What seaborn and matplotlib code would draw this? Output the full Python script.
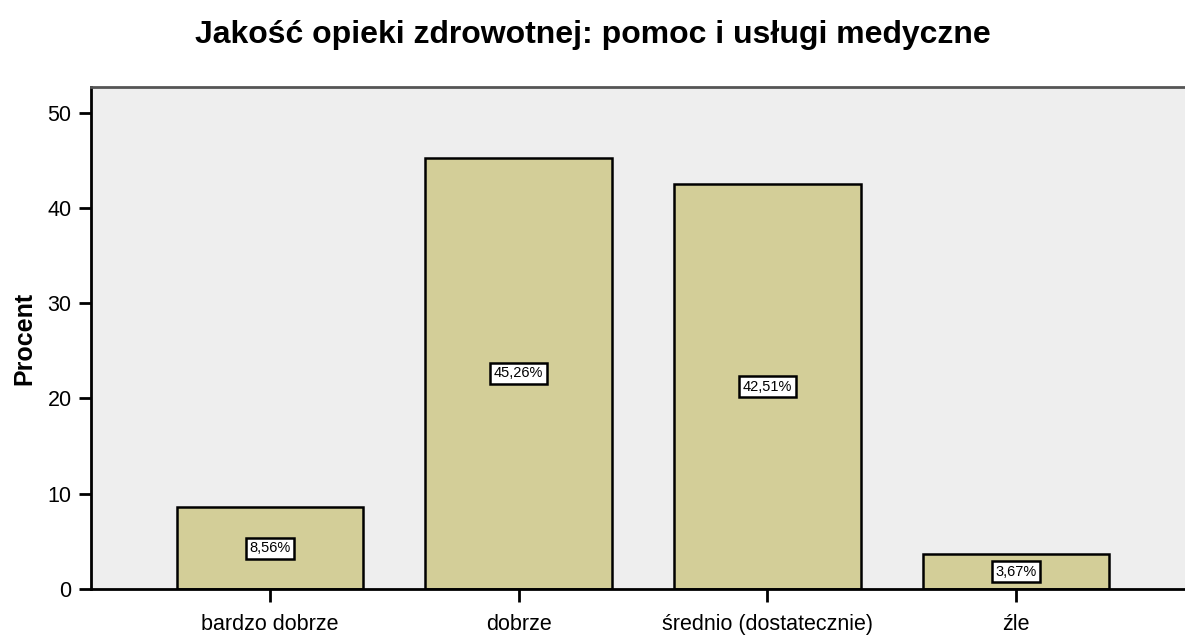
import matplotlib
matplotlib.use('Agg')
import matplotlib.pyplot as plt
import seaborn as sns
import pandas as pd

categories = ['bardzo dobrze', 'dobrze', 'średnio (dostatecznie)', 'źle']
percent = [8.56, 45.26, 42.51, 3.67]
labels = ['8,56%', '45,26%', '42,51%', '3,67%']

df = pd.DataFrame({'kat': categories, 'proc': percent})

sns.set_style('white')
plt.rcParams['font.family'] = ['Liberation Sans', 'DejaVu Sans']
plt.rcParams['text.color'] = 'black'
plt.rcParams['axes.labelcolor'] = 'black'

fig = plt.figure(figsize=(11.85, 6.36), dpi=100)
ax = fig.add_axes([0.0768, 0.0739, 0.9232, 0.7893])
ax.set_facecolor('#EEEEEE')

sns.barplot(data=df, x='kat', y='proc', color='#D3CE98', width=0.75,
            edgecolor='black', linewidth=1.8, saturation=1, ax=ax)

for i, (v, t) in enumerate(zip(percent, labels)):
    ax.text(i, v / 2, t, ha='center', va='center', fontsize=10.5, color='black',
            bbox=dict(boxstyle='square,pad=0.25', fc='white', ec='black', lw=1.8))

ax.set_xlim(-0.72, 3.68)
ax.set_ylim(0, 52.7)
ax.set_yticks([0, 10, 20, 30, 40, 50])
ax.tick_params(axis='both', bottom=True, left=True, direction='out', length=9, width=2,
               colors='black', labelsize=15.5, pad=5)
ax.tick_params(axis='x', pad=9)

for s in ['left', 'bottom']:
    ax.spines[s].set_color('black')
    ax.spines[s].set_linewidth(2)
ax.spines['top'].set_color('#555555')
ax.spines['top'].set_linewidth(2)
ax.spines['right'].set_visible(False)

ax.set_xlabel('')
ax.set_ylabel('Procent', fontsize=18, fontweight='bold', labelpad=8)
fig.suptitle('Jakość opieki zdrowotnej: pomoc i usługi medyczne',
             fontsize=23, fontweight='bold', x=0.5, y=0.968, color='black')

fig.savefig('out.png', dpi=100)
